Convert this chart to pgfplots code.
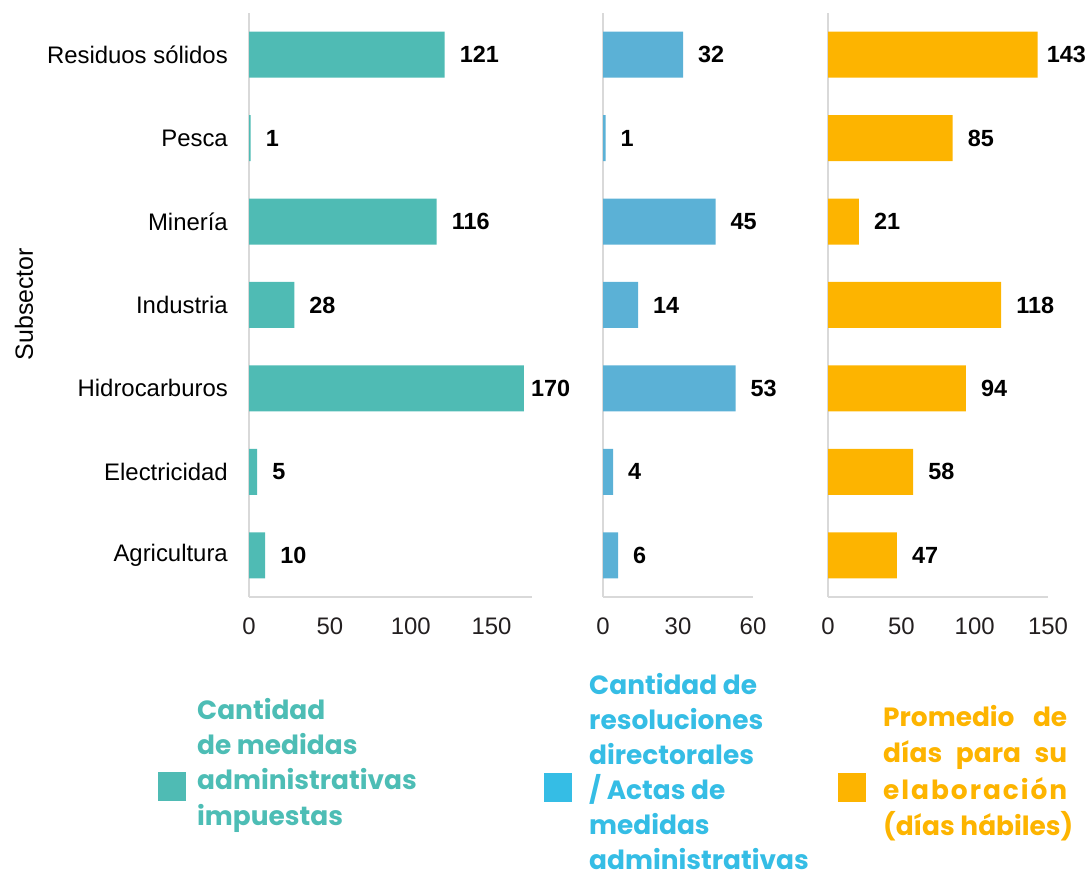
\documentclass[border=0pt]{standalone}
\usepackage{fontspec}
\setmainfont{Liberation Sans}
\newfontfamily\legfont{Poppins}
\usepackage{pgfplots}
\usepackage{pgfplotstable}
\pgfplotsset{compat=1.18}
\definecolor{teal1}{HTML}{4FBBB4}
\definecolor{tealleg}{HTML}{4DBDB5}
\definecolor{blue1}{HTML}{5BB1D6}
\definecolor{blueleg}{HTML}{35BDE5}
\definecolor{yel}{HTML}{FDB400}
\definecolor{axgray}{HTML}{D9D9D9}
\definecolor{tickc}{HTML}{231F20}
\pgfplotstableread{
val idx sh
10  0 15
5   1 15
170 2 7
28  3 15
116 4 15
1   5 15
121 6 15
}\tA
\pgfplotstableread{
val idx sh
6  0 15
4  1 15
53 2 15
14 3 15
45 4 15
1  5 15
32 6 15
}\tB
\pgfplotstableread{
val idx sh
47  0 15
58  1 15
94  2 15
118 3 15
21  4 15
85  5 15
143 6 9
}\tC
\pgfplotsset{panel/.style={
  xbar, scale only axis, height=584bp, ymin=-0.5, ymax=6.5, xmin=0,
  ytick={0,...,6}, bar width=46bp,
  axis x line*=bottom, axis y line*=left,
  axis line style={draw=axgray, line width=1.6bp, -},
  major tick length=0,
  /pgf/number format/assume math mode=true,
  tick label style={font=\fontsize{24}{24}\selectfont, text=tickc, inner sep=0pt},
  xticklabel style={anchor=north, yshift=-21bp},
  yticklabel style={anchor=east, xshift=-21bp, text=black},
  point meta=x,
  visualization depends on={\thisrow{sh} \as \sh},
  nodes near coords,
  nodes near coords style={anchor=west, font=\fontsize{23.5}{23.5}\selectfont\bfseries, text=black, inner sep=0pt, xshift=\sh bp},
  anchor=south west,
}}
\newcommand\legline[4]{\node[anchor=base west, inner sep=0pt, text=#1, font=\legfont\bfseries\fontsize{26.5}{26.5}\selectfont] at (#2bp,{875bp-#3bp}) {#4};}
\begin{document}
\begin{tikzpicture}
\useasboundingbox (0,0) rectangle (1088bp,875bp);
\begin{axis}[panel, at={(249bp,278bp)}, width=283bp, xmax=175, xtick={0,50,100,150},
  yticklabels={Agricultura,Electricidad,Hidrocarburos,Industria,Minería,Pesca,Residuos sólidos}]
\addplot[fill=teal1, draw=none] table[x=val, y=idx] {\tA};
\end{axis}
\begin{axis}[panel, at={(603bp,278bp)}, width=150bp, xmax=60, xtick={0,30,60}, yticklabels={}]
\addplot[fill=blue1, draw=none] table[x=val, y=idx] {\tB};
\end{axis}
\begin{axis}[panel, at={(828bp,278bp)}, width=220bp, xmax=150, xtick={0,50,100,150}, yticklabels={}]
\addplot[fill=yel, draw=none] table[x=val, y=idx] {\tC};
\end{axis}
\node[rotate=90, font=\fontsize{25}{25}\selectfont] at (24bp,571bp) {Subsector};
% legend 1
\fill[teal1] (158bp,74bp) rectangle (186bp,103bp);
\legline{tealleg}{197}{720}{Cantidad}
\legline{tealleg}{197}{754.5}{de medidas}
\legline{tealleg}{197}{790}{administrativas}
\legline{tealleg}{197}{826}{impuestas}
% legend 2
\fill[blueleg] (544bp,73bp) rectangle (572bp,102bp);
\legline{blueleg}{589}{695}{Cantidad de}
\legline{blueleg}{589}{730}{resoluciones}
\legline{blueleg}{589}{765}{directorales}
\legline{blueleg}{589}{800}{/ Actas de}
\legline{blueleg}{589}{834.5}{medidas}
\legline{blueleg}{589}{869}{administrativas}
% legend 3
\fill[yel] (838bp,73bp) rectangle (866bp,102bp);
\legline{yel}{883}{727}{\makebox[184bp][s]{Promedio de}}
\legline{yel}{883}{763}{\makebox[184bp][s]{días para su}}
\legline{yel}{883}{800}{\makebox[184bp][s]{e\hfill l\hfill a\hfill b\hfill o\hfill r\hfill a\hfill c\hfill i\hfill ó\hfill n}}
\legline{yel}{883}{836}{(días hábiles)}
\end{tikzpicture}
\end{document}
